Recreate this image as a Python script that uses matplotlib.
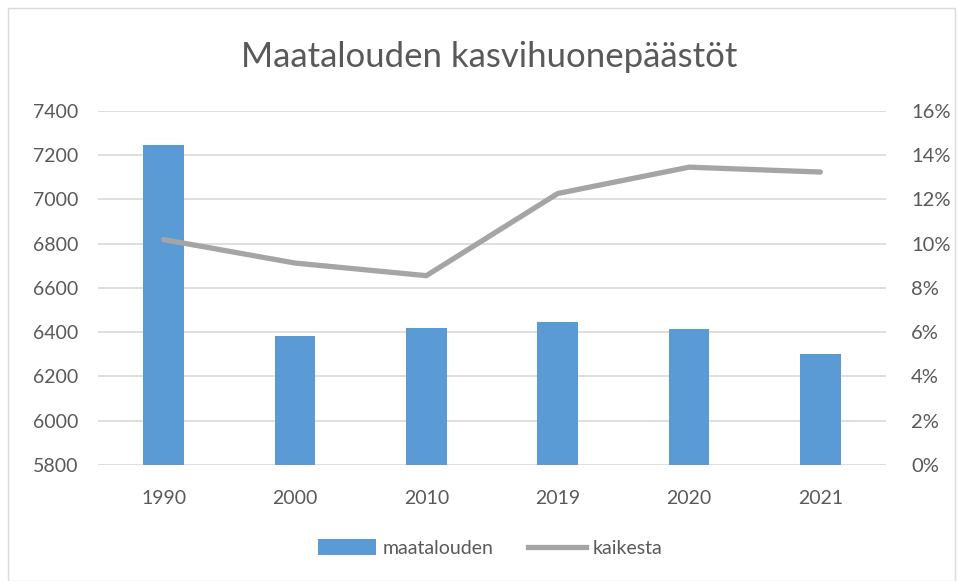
import matplotlib
matplotlib.use("Agg")
import matplotlib.pyplot as plt
from matplotlib.patches import Rectangle
from matplotlib.lines import Line2D
from matplotlib.patches import Patch
from matplotlib.ticker import FuncFormatter, MultipleLocator

plt.rcParams['font.family'] = ['Lato', 'DejaVu Sans']

years = ["1990", "2000", "2010", "2019", "2020", "2021"]
maatalouden = [7243, 6384, 6420, 6445, 6412, 6302]
kaikesta = [10.18, 9.12, 8.55, 12.26, 13.45, 13.23]

title = "Maatalouden kasvihuonepäästöt"
bar_color = "#5B9BD5"
line_color = "#A5A5A5"
text_color = "#595959"
grid_color = "#D9D9D9"

fig = plt.figure(figsize=(9.57, 5.81), dpi=100)
ax = fig.add_axes([98/957, 1-465/581, (886-98)/957, (465-110.7)/581])

x = list(range(len(years)))
ax.bar(x, [v - 5800 for v in maatalouden], bottom=5800, width=0.31, color=bar_color, zorder=2)
ax.set_ylim(5800, 7400)
ax.set_xlim(-0.5, len(years) - 0.5)
ax.yaxis.set_major_locator(MultipleLocator(200))
ax.set_xticks(x)
ax.set_xticklabels(years)
ax.grid(axis='y', color=grid_color, linewidth=1.2, zorder=0)
ax.set_axisbelow(True)
for s in ax.spines.values():
    s.set_visible(False)
ax.tick_params(axis='both', length=0, labelsize=14, colors=text_color)
ax.tick_params(axis='x', pad=18)
ax.tick_params(axis='y', pad=14)

ax2 = ax.twinx()
ax2.plot(x, kaikesta, color=line_color, linewidth=3.8, solid_capstyle='round', solid_joinstyle='round', zorder=3)
ax2.set_ylim(0, 16)
ax2.yaxis.set_major_locator(MultipleLocator(2))
ax2.yaxis.set_major_formatter(FuncFormatter(lambda v, p: f"{v:.0f}%"))
for s in ax2.spines.values():
    s.set_visible(False)
ax2.tick_params(axis='y', length=0, labelsize=14.5, colors=text_color, pad=18)

fig.text(489/957, 1-57/581, title, ha='center', va='center', fontsize=25, color=text_color)

handles = [Patch(facecolor=bar_color, edgecolor='none'),
           Line2D([0], [0], color=line_color, linewidth=3.8)]
fig.legend(handles, ["maatalouden", "kaikesta"], loc='center', bbox_to_anchor=(490/957, 1-548/581),
           ncol=2, frameon=False, fontsize=14, labelcolor=text_color,
           handlelength=3.0, handleheight=0.9, handletextpad=0.3, columnspacing=1.8)

fig.patches.append(Rectangle((8/957, 0), 1 - 8/957 - 2/957, 1 - 8/581, transform=fig.transFigure,
                             fill=False, edgecolor=grid_color, linewidth=1))

fig.savefig("out.png", dpi=100)
